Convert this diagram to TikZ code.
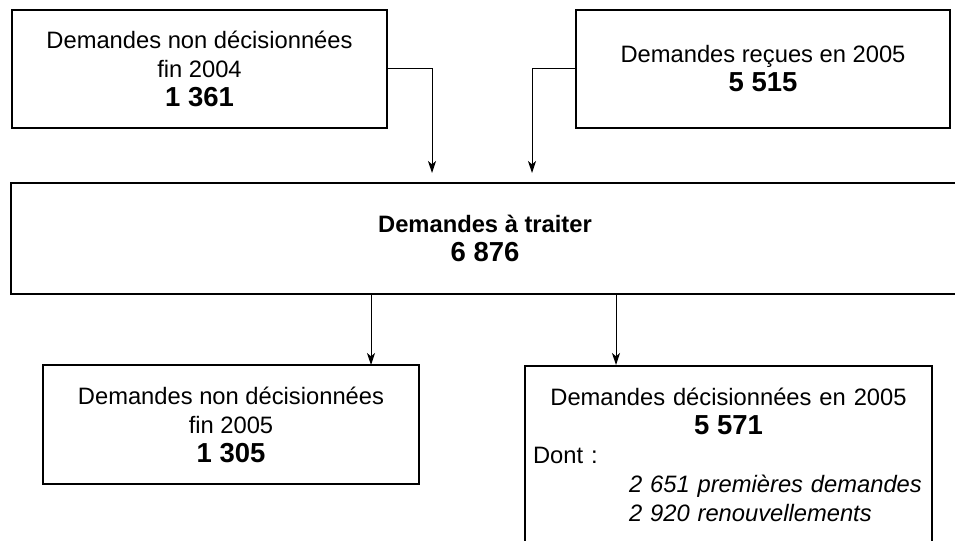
\documentclass[tikz,border=0pt]{standalone}
\usepackage{fontspec}
\setmainfont{Liberation Sans}
\usetikzlibrary{arrows.meta, calc}
\newcommand{\boxfont}{\fontsize{17.8pt}{21.75pt}\selectfont}
\newcommand{\bignum}[1]{{\fontsize{20.6pt}{21.75pt}\selectfont\bfseries #1}}
\tikzset{
    boxstyle/.style={draw, line width=1.6pt, inner sep=0pt, align=center, font=\boxfont},
    arrowstyle/.style={-{Stealth[length=9pt, width=6pt, inset=2.5pt]}, line width=0.75pt}
}

\begin{document}
\begin{tikzpicture}[x=0.75pt, y=-0.75pt]

        \useasboundingbox (0,0) rectangle (955,541);

        % ================= TOP ROW =================
        \node[boxstyle, minimum width=281pt, minimum height=88.5pt] (old) at (199.5,69)
            {Demandes non décisionnées\\fin 2004\\\bignum{1 361}};
        \node[boxstyle, minimum width=280.5pt, minimum height=88.5pt] (recv) at (763,69)
            {Demandes reçues en 2005\\\bignum{5 515}};

        % ================= MIDDLE =================
        \node[boxstyle, minimum width=711pt, minimum height=83.25pt] (traiter) at (485,238.5)
            {\textbf{Demandes à traiter}\\\bignum{6 876}};

        % ================= BOTTOM ROW =================
        \node[boxstyle, minimum width=282pt, minimum height=89.25pt] (low) at (231,424.5)
            {Demandes non décisionnées\\fin 2005\\\bignum{1 305}};
        \node[draw, line width=1.6pt, inner xsep=6pt, inner ysep=0pt, text width=293.25pt,
              font=\boxfont, anchor=north] (decis) at (728.5,365)
            {{\centering\rule{0pt}{29.25pt}Demandes décisionnées en 2005\\\bignum{5 571}\par}
             \noindent Dont :\\
             \hspace*{72pt}\textit{2 651 premières demandes}\\
             \hspace*{72pt}\textit{2 920 renouvellements}\rule[-40pt]{0pt}{0pt}};

        % --- Arrows ---
        \coordinate (in1) at (432,183);
        \coordinate (in2) at (532,183);
        \coordinate (out1) at (371,365);
        \coordinate (out2) at (616,365);
        \draw[arrowstyle, shorten >=7.5pt] (old.east) -| (in1);
        \draw[arrowstyle, shorten >=7.5pt] (recv.west) -| (in2);
        \draw[arrowstyle] (traiter.south -| out1) -- (out1);
        \draw[arrowstyle] (traiter.south -| out2) -- (out2);

\end{tikzpicture}
\end{document}
